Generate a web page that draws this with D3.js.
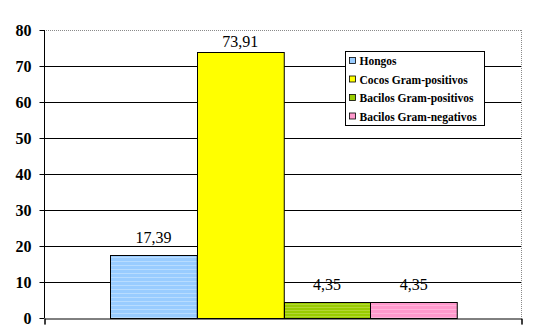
<!DOCTYPE html>
<html><head><meta charset="utf-8">
<script src="https://cdn.jsdelivr.net/npm/d3@7"></script>
</head><body style="margin:0;background:#fff">
<script>
const categories = ["Hongos","Cocos Gram-positivos","Bacilos Gram-positivos","Bacilos Gram-negativos"];
const values = [17.39, 73.91, 4.35, 4.35];
const valueLabels = ["17,39","73,91","4,35","4,35"];
const colors = ["#99ccff","#ffff00","#99cc00","#ff99cc"];
const yTicks = [0,10,20,30,40,50,60,70,80];

const W = 539, H = 326;
const x0 = 44, x1 = 521;
const svg = d3.select("body").append("svg").attr("width",W).attr("height",H);

const defs = svg.append("defs");
const patSpecs = [
  {id:"p0", base:colors[0], stripe:"#b8dcff", size:4},
  {id:"p1", base:colors[1], stripe:colors[1], size:4},
  {id:"p2", base:colors[2], stripe:"#b3d633", size:3},
  {id:"p3", base:colors[3], stripe:"#ffb3da", size:4}
];
patSpecs.forEach(p=>{
  const pat = defs.append("pattern").attr("id",p.id).attr("patternUnits","userSpaceOnUse")
    .attr("width",p.size).attr("height",p.size);
  pat.append("rect").attr("width",p.size).attr("height",p.size).attr("fill",p.base);
  pat.append("rect").attr("y",1).attr("width",p.size).attr("height",1).attr("fill",p.stripe);
});

const y = d3.scaleLinear().domain([0,80]).range([318,30]);
const xb = d3.scaleBand().domain(categories).range([110,457]);

svg.append("g").selectAll("line").data(yTicks.filter(d=>d>0)).join("line")
  .attr("x1",x0).attr("x2",x1)
  .attr("y1",d=>Math.round(y(d))+0.5).attr("y2",d=>Math.round(y(d))+0.5)
  .attr("stroke",d=>d===80?"#8a8a8a":"#000")
  .attr("stroke-dasharray",d=>d===80?"1,1":null);
svg.append("line").attr("x1",x1+0.5).attr("x2",x1+0.5).attr("y1",y(80)).attr("y2",y(0))
  .attr("stroke","#8a8a8a").attr("stroke-dasharray","1,1");

svg.append("g").selectAll("rect").data(values).join("rect")
  .attr("x",(d,i)=>Math.round(xb(categories[i]))+0.5)
  .attr("y",d=>Math.round(y(d))+0.5)
  .attr("width",xb.bandwidth())
  .attr("height",d=>Math.round(y(0))-Math.round(y(d)))
  .attr("fill",(d,i)=>"url(#p"+i+")")
  .attr("stroke","#000");

svg.append("g").selectAll("text").data(values).join("text")
  .attr("x",(d,i)=>xb(categories[i])+xb.bandwidth()/2)
  .attr("y",d=>Math.max(y(d)-12,47))
  .attr("text-anchor","middle")
  .attr("font-family","Times New Roman")
  .attr("font-size",16).attr("fill","#000")
  .text((d,i)=>valueLabels[i]);

const ga = svg.append("g").attr("transform",`translate(${x0+0.5},0)`)
  .call(d3.axisLeft(y).tickValues(yTicks).tickSize(5).tickPadding(8).tickFormat(d3.format("d")));
ga.attr("font-family","Times New Roman").attr("font-size",16).attr("font-weight","bold");
ga.select(".domain").attr("stroke","#000").attr("d",`M0,${y(80)}V${y(0)}`);
ga.selectAll(".tick line").attr("stroke","#000");
ga.selectAll("text").attr("font-family","Times New Roman").attr("fill","#000");

const gx = svg.append("g").attr("transform",`translate(0.5,${Math.round(y(0))+0.5})`)
  .call(d3.axisBottom(d3.scaleLinear().domain([0,1]).range([x0,x1])).tickValues([0,1]).tickSize(6).tickFormat(""));
gx.select(".domain").attr("stroke","#000");
gx.selectAll(".tick line").attr("stroke","#000");

const lg = svg.append("g").attr("transform","translate(345.5,51.5)");
lg.append("rect").attr("width",139).attr("height",74).attr("fill","#fff").attr("stroke","#000");
const items = lg.selectAll("g.item").data(categories).join("g").attr("class","item")
  .attr("transform",(d,i)=>`translate(4,${10+i*18.5})`);
items.append("rect").attr("x",0).attr("y",-4).attr("width",6).attr("height",6)
  .attr("fill",(d,i)=>colors[i]).attr("stroke","#000").attr("stroke-width",0.8);
items.append("text").attr("x",10).attr("y",3.5)
  .attr("font-family","Times New Roman")
  .attr("font-weight","bold").attr("font-size",11.5).attr("fill","#000")
  .text(d=>d);
</script>
</body></html>
